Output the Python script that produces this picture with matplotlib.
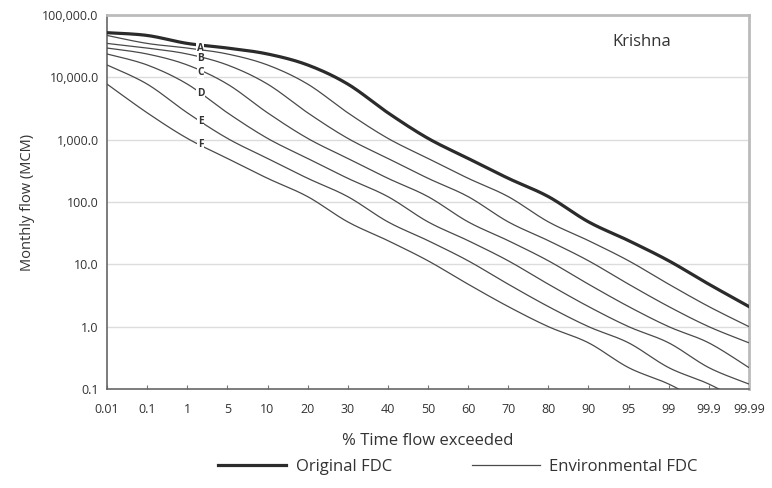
import numpy as np
import matplotlib
matplotlib.use("Agg")
import matplotlib.pyplot as plt
from matplotlib.lines import Line2D
import matplotlib.transforms as mtransforms

plt.rcParams['font.family'] = ['Open Sans', 'DejaVu Sans']

# ---- data ----
x_labels = ["0.01", "0.1", "1", "5", "10", "20", "30", "40", "50", "60",
            "70", "80", "90", "95", "99", "99.9", "99.99"]

original = [52000, 47000, 35000, 29500, 23700, 15800, 7800, 2700, 1050, 500,
            240, 122, 48, 24, 11.4, 4.8, 2.1]
env_A = [47000, 35000, 29500, 23700, 15800, 7800, 2700, 1050, 500, 240,
         122, 48, 24, 11.4, 4.8, 2.1, 1.0]
env_B = [35000, 29500, 23700, 15800, 7800, 2700, 1050, 500, 240, 122,
         48, 24, 11.4, 4.8, 2.1, 1.0, 0.55]
env_C = [29500, 23700, 15800, 7800, 2700, 1050, 500, 240, 122, 48,
         24, 11.4, 4.8, 2.1, 1.0, 0.55, 0.22]
env_D = [23700, 15800, 7800, 2700, 1050, 500, 240, 122, 48, 24,
         11.4, 4.8, 2.1, 1.0, 0.55, 0.22, 0.12]
env_E = [15800, 7800, 2700, 1050, 500, 240, 122, 48, 24, 11.4,
         4.8, 2.1, 1.0, 0.55, 0.22, 0.12, 0.055]
env_F = [7800, 2700, 1050, 500, 240, 122, 48, 24, 11.4, 4.8,
         2.1, 1.0, 0.55, 0.22, 0.12, 0.055, 0.03]
env_names = ["A", "B", "C", "D", "E", "F"]
env_series = [env_A, env_B, env_C, env_D, env_E, env_F]

y_ticks = [0.1, 1, 10, 100, 1000, 10000, 100000]
y_tick_labels = ["0.1", "1.0", "10.0", "100.0", "1,000.0", "10,000.0", "100,000.0"]


def smooth(values, n=20):
    """Excel-like smoothed line (Catmull-Rom Bezier) drawn in (index, log10) space."""
    x = np.arange(len(values), dtype=float)
    y = np.log10(np.asarray(values, dtype=float))
    xs, ys = [], []
    t = np.linspace(0, 1, n, endpoint=False)
    for i in range(len(x) - 1):
        p0 = np.array([x[max(i - 1, 0)], y[max(i - 1, 0)]])
        p1 = np.array([x[i], y[i]])
        p2 = np.array([x[i + 1], y[i + 1]])
        p3 = np.array([x[min(i + 2, len(x) - 1)], y[min(i + 2, len(x) - 1)]])
        c1 = p1 + (p2 - p0) / 6.0
        c2 = p2 - (p3 - p1) / 6.0
        b = ((1 - t) ** 3)[:, None] * p1 + (3 * (1 - t) ** 2 * t)[:, None] * c1 \
            + (3 * (1 - t) * t ** 2)[:, None] * c2 + (t ** 3)[:, None] * p2
        xs.append(b[:, 0]); ys.append(b[:, 1])
    xs.append([x[-1]]); ys.append([y[-1]])
    return np.concatenate(xs), 10 ** np.concatenate(ys)


fig = plt.figure(figsize=(7.72, 4.88), dpi=100)
ax = fig.add_axes([107 / 772, 1 - 389 / 488, (749 - 107) / 772, (389 - 15) / 488])

ax.set_yscale('log')
ax.set_ylim(0.1, 100000)
ax.set_xlim(0, len(x_labels) - 1)

for yt in y_ticks[1:-1]:
    ax.axhline(yt, color='#dcdcdc', lw=1.0, zorder=1)

thin_col = '#4a4a4a'
for vals in env_series:
    sx, sy = smooth(vals)
    ax.plot(sx, sy, color=thin_col, lw=0.9, zorder=3, solid_capstyle='butt')

sx, sy = smooth(original)
ax.plot(sx, sy, color='#2b2b2b', lw=2.3, zorder=4)

# class labels on the curves
lab_x = 2.33
nudges = {"A": 1.5, "B": -1.0, "C": -1.0, "D": 0.0, "E": 0.0, "F": 0.0}
for name, vals in zip(env_names, env_series):
    lv = np.interp(lab_x, np.arange(len(vals)), np.log10(vals))
    tr = ax.transData + mtransforms.ScaledTranslation(0, nudges[name] / 100, fig.dpi_scale_trans)
    ax.text(lab_x, 10 ** lv, name, ha='center', va='center', fontsize=7.3,
            fontweight='bold', color='#333333', zorder=5, transform=tr,
            bbox=dict(facecolor='white', edgecolor='none', pad=0.4))

ax.text(0.833, 0.928, "Krishna", transform=ax.transAxes, ha='center', va='center',
        fontsize=12, color='#333333')

ax.set_xticks(np.arange(len(x_labels)))
ax.set_xticklabels(x_labels, fontsize=9, color='#333333')
ax.set_yticks(y_ticks)
ax.set_yticklabels(y_tick_labels, fontsize=9, color='#333333')
ax.yaxis.set_minor_locator(matplotlib.ticker.NullLocator())
ax.tick_params(axis='x', direction='in', length=3, width=0.8, color='#777777', pad=10)
ax.tick_params(axis='y', direction='in', length=0, pad=6)

for side in ['top', 'right']:
    ax.spines[side].set_color('#bbbbbb')
    ax.spines[side].set_linewidth(2.0)
for side in ['left', 'bottom']:
    ax.spines[side].set_color('#666666')
    ax.spines[side].set_linewidth(1.2)

ax.set_xlabel("% Time flow exceeded", fontsize=12, color='#333333', labelpad=12)
ax.set_ylabel("Monthly flow (MCM)", fontsize=10.5, color='#333333', labelpad=5)

handles = [Line2D([], [], color='#2b2b2b', lw=2.3),
           Line2D([], [], color=thin_col, lw=0.9)]
fig.legend(handles, ["Original FDC", "Environmental FDC"], loc='center',
           bbox_to_anchor=(458 / 772, 1 - 467 / 488), ncol=2, frameon=False,
           fontsize=12, handlelength=4.1, handletextpad=0.55, columnspacing=4.8,
           labelcolor='#333333')

fig.savefig("out.png", dpi=100)
